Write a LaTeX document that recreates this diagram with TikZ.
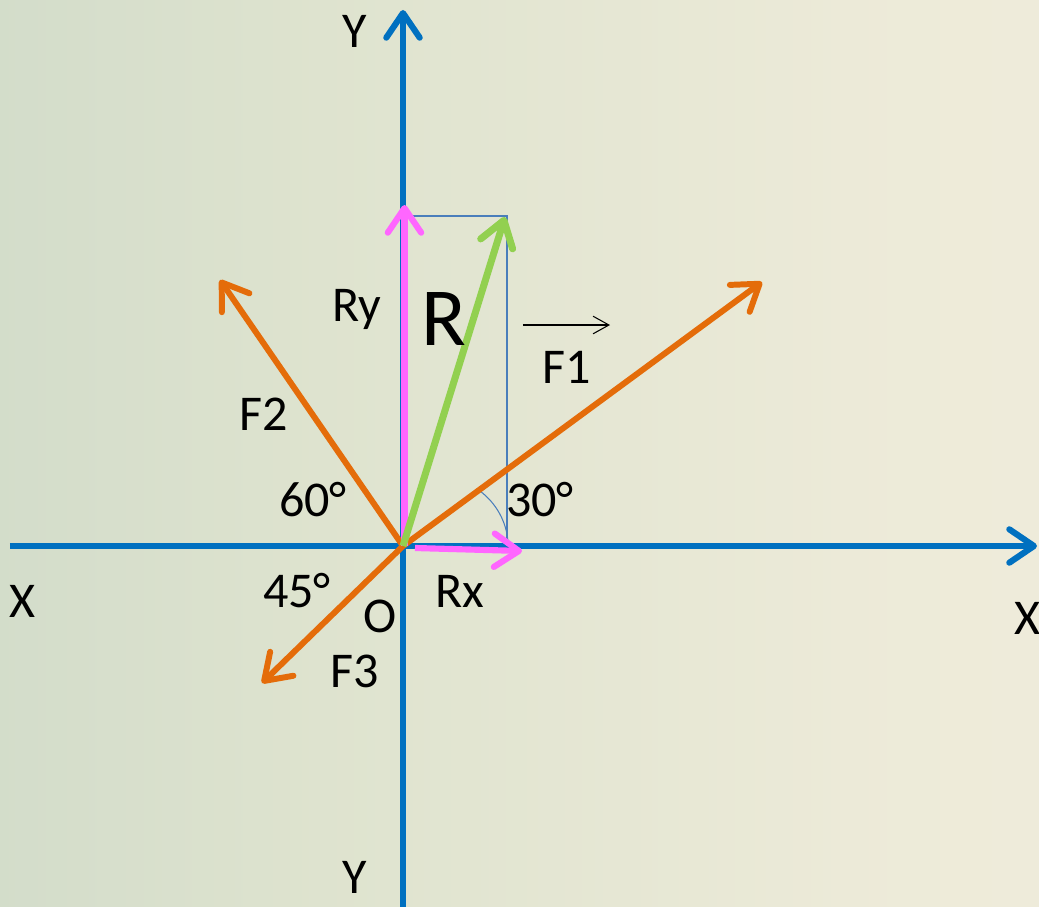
\documentclass[tikz,border=0pt]{standalone}
\usepackage{fontspec}
\setmainfont{Carlito}
\usetikzlibrary{arrows.meta}
\definecolor{axisblue}{RGB}{0,112,192}
\definecolor{forceorange}{RGB}{228,108,10}
\definecolor{comppink}{RGB}{255,102,255}
\definecolor{resgreen}{RGB}{146,208,80}
\definecolor{boxblue}{RGB}{74,126,187}
\pgfdeclarehorizontalshading{bgshade}{100bp}{%
  rgb(0bp)=(0.86,0.89,0.87); rgb(8bp)=(0.84,0.88,0.84);
  rgb(22bp)=(0.82,0.86,0.79); rgb(40bp)=(0.87,0.89,0.81);
  rgb(68bp)=(0.93,0.92,0.85); rgb(100bp)=(0.95,0.93,0.87)}

\begin{document}
\begin{tikzpicture}[
  barb/.style={-{Straight Barb[length=14pt,width=19pt,round]}},
  axis/.style={barb, draw=axisblue, line width=3.5pt},
  force/.style={barb, draw=forceorange, line width=3.4pt},
  comp/.style={barb, draw=comppink, line width=3.5pt},
  result/.style={barb, draw=resgreen, line width=4pt},
  guide/.style={draw=boxblue, line width=0.6pt},
  lbl/.style={anchor=base, inner sep=0pt, font=\fontsize{28.5}{34}\selectfont}
]

% Background
\useasboundingbox (-8.06,-7.2) rectangle (12.72,10.92);
\shade[shading=bgshade] (-8.06,-7.2) rectangle (12.72,10.92);

% Points
\coordinate (O) at (0,0);
\coordinate (xl) at (-7.86,0);
\coordinate (xr) at (12.68,0);
\coordinate (yt) at (0,10.72);
\coordinate (yb) at (0,-7.4);
\coordinate (f1) at (7.18,5.28);
\coordinate (f2) at (-3.66,5.32);
\coordinate (f3) at (-2.82,-2.74);
\coordinate (ry0) at (0.03,0);
\coordinate (ry) at (0.03,6.82);
\coordinate (rx0) at (0.24,-0.04);
\coordinate (rx) at (2.38,-0.10);
\coordinate (r) at (2.04,6.58);
\coordinate (c1) at (0.03,6.6);
\coordinate (c2) at (2.08,6.6);
\coordinate (c3) at (2.08,0);
\coordinate (a1) at (1.54,1.10);
\coordinate (a2) at (2.10,0.06);
\coordinate (v1) at (2.40,4.42);
\coordinate (v2) at (4.14,4.42);

% Axes
\draw[axis] (xl) -- (xr);
\draw[axis, -] (yb) -- (O);
\draw[axis] (O) -- (yt);

% Component box and angle
\draw[guide] (c1) -- (c2) -- (c3);
\draw[guide] (a1) .. controls (1.86,0.86) and (2.08,0.48) .. (a2);

% Forces
\draw[force] (O) -- (f1);
\draw[force] (O) -- (f2);
\draw[force] (O) -- (f3);

% Components and resultant
\draw[comp] (ry0) -- (ry);
\draw[comp] (rx0) -- (rx);
\draw[result] (O) -- (r);

% Vector sign over F1
\draw[line width=0.6pt, -{Straight Barb[length=9pt,width=10pt]}] (v1) -- (v2);

% Labels
\node[lbl] (ly1) at (-0.96,9.96) {Y};
\node[lbl] (ly2) at (-0.96,-6.94) {Y};
\node[lbl] (lx1) at (-7.6,-1.42) {X};
\node[lbl] (lx2) at (12.48,-1.76) {X};
\node[lbl] (lry) at (-0.92,4.50) {Ry};
\node[lbl, font=\fontsize{47}{56}\selectfont] (lr) at (0.82,4.02) {R};
\node[lbl] (lf1) at (3.28,3.26) {F1};
\node[lbl] (lf2) at (-2.78,2.32) {F2};
\node[lbl] (l60) at (-1.80,0.60) {60°};
\node[lbl] (l30) at (2.74,0.60) {30°};
\node[lbl] (l45) at (-2.12,-1.22) {45°};
\node[lbl] (lo) at (-0.46,-1.72) {O};
\node[lbl] (lf3) at (-0.96,-2.82) {F3};
\node[lbl] (lrx) at (1.14,-1.22) {Rx};

\end{tikzpicture}
\end{document}
